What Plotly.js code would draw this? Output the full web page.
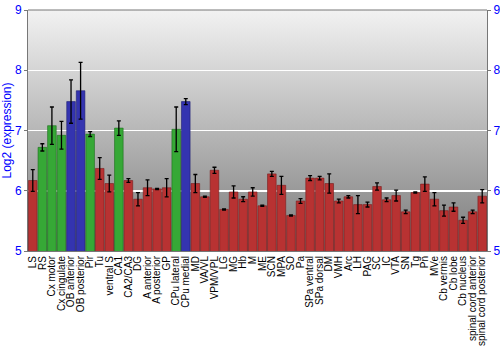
<!DOCTYPE html>
<html><head><meta charset="utf-8">
<script src="https://cdn.plot.ly/plotly-3.0.1.min.js"></script>
<style>body{margin:0;padding:0;background:#fff}#c{width:500px;height:350px}</style>
</head><body><div id="c"></div>
<script>
const categories = ["LS","RS","Cx motor","Cx cingulate","OB anterior","OB posterior","Pir","Tu","ventral S","CA1","CA2/CA3","DG","A anterior","A posterior","GP","CPu lateral","CPu medial","MD","VA/VL","VPM/VPL","LG","MG","Hb","M","ME","SCN","MPA","SO","Pa","SPa ventral","SPa dorsal","DM","VMH","Arc","LH","PAG","SC","IC","VTA","SN","Tg","Pn","MVe","Cb vermis","Cb lobe","Cb nucleus","spinal cord anterior","spinal cord posterior"];
const values = [6.17,6.72,7.08,6.92,7.48,7.66,6.94,6.37,6.12,7.04,6.17,5.86,6.05,6.03,6.05,7.02,7.48,6.12,5.90,6.34,5.69,5.98,5.86,5.98,5.75,6.28,6.09,5.59,5.83,6.21,6.21,6.12,5.83,5.90,5.77,5.77,6.07,5.85,5.92,5.65,5.97,6.11,5.86,5.67,5.73,5.51,5.65,5.91];
const errors = [0.18,0.06,0.31,0.23,0.36,0.47,0.04,0.18,0.14,0.12,0.03,0.11,0.13,0.01,0.15,0.37,0.05,0.15,0.01,0.05,0.01,0.10,0.04,0.07,0.01,0.04,0.15,0.01,0.04,0.04,0.03,0.16,0.03,0.02,0.15,0.04,0.06,0.03,0.09,0.03,0.01,0.12,0.11,0.09,0.07,0.05,0.03,0.11];
const groups = ["o","g","g","g","b","b","g","o","o","g","o","o","o","o","o","g","b","o","o","o","o","o","o","o","o","o","o","o","o","o","o","o","o","o","o","o","o","o","o","o","o","o","o","o","o","o","o","o"];
const yTicks = [5,6,7,8,9];

const fillMap = {o:"#b83232", g:"#36a836", b:"#3434b0"};
const lineMap = {o:"#7a1c1c", g:"#1f6e1f", b:"#1f1f72"};
const colors = groups.map(g => fillMap[g]);
const lines = groups.map(g => lineMap[g]);

const svg = '<svg xmlns="http://www.w3.org/2000/svg" width="10" height="100" preserveAspectRatio="none"><defs><linearGradient id="g" x1="0" y1="0" x2="0" y2="1"><stop offset="0" stop-color="#f2f2f2"/><stop offset="1" stop-color="#7c7c7c"/></linearGradient></defs><rect width="10" height="100" fill="url(#g)"/></svg>';
const bgUri = "data:image/svg+xml;base64," + btoa(svg);

const traces = [{
  type: "bar", x: categories, y: values,
  marker: {color: colors, line: {color: lines, width: 0.6}},
  error_y: {type: "data", array: errors, visible: true, color: "#000", thickness: 1.3, width: 2},
  hoverinfo: "skip"
},{
  type: "scatter", x: [categories[0]], y: [5], yaxis: "y2", mode: "markers",
  marker: {opacity: 0}, showlegend: false, hoverinfo: "skip"
}];

const layout = {
  width: 500, height: 350,
  margin: {l: 28, r: 13, t: 10, b: 99},
  paper_bgcolor: "#fff", plot_bgcolor: "rgba(0,0,0,0)",
  showlegend: false, bargap: 0.1,
  font: {family: "Liberation Sans, Arial, sans-serif"},
  images: [{source: bgUri, xref: "paper", yref: "paper", x: 0, y: 1, sizex: 1, sizey: 1,
            sizing: "stretch", layer: "below", xanchor: "left", yanchor: "top"}],
  xaxis: {tickangle: -90, tickmode: "array", tickvals: categories, ticktext: categories,
          tickfont: {size: 10, color: "#000"}, showline: true, linecolor: "#777",
          ticks: "", ticklen: 0, showgrid: false, automargin: false, range: [-0.5, categories.length - 0.5]},
  yaxis: {range: [5, 9], tickvals: yTicks, ticks: "outside", ticklen: 3, tickcolor: "#777",
          tickfont: {size: 12, color: "#0000ff"}, showline: true, linecolor: "#777", mirror: false,
          gridcolor: "#ffffff", gridwidth: 1.5, zeroline: false,
          title: {text: "Log2 (expression)", font: {size: 12, color: "#0000ff"}, standoff: 4}},
  yaxis2: {range: [5, 9], tickvals: yTicks, overlaying: "y", side: "right", ticks: "outside", ticklen: 3,
           tickcolor: "#777", tickfont: {size: 12, color: "#0000ff"}, showline: true, linecolor: "#777",
           showgrid: false, zeroline: false},
  shapes: [{type: "line", xref: "paper", yref: "paper", x0: 0, x1: 1, y0: 1, y1: 1, line: {color: "#777", width: 1}}]
};
Plotly.newPlot("c", traces, layout, {staticPlot: true, displayModeBar: false});
</script></body></html>
